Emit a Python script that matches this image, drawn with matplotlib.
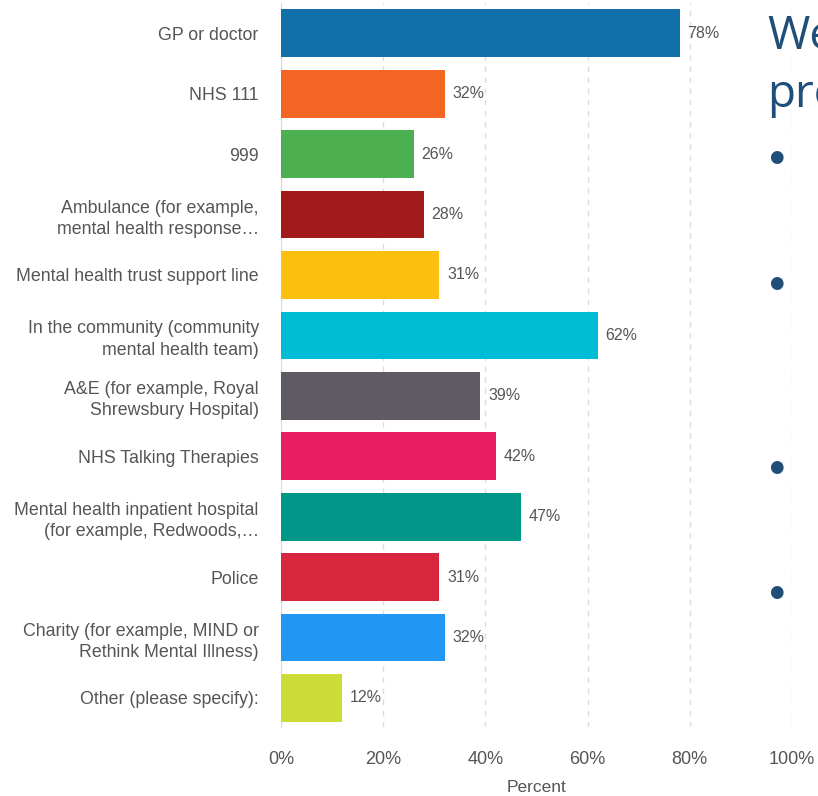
import numpy as np
import matplotlib
matplotlib.use("Agg")
import matplotlib.pyplot as plt

# survey answers, top to bottom
categories = [
    "GP or doctor",
    "NHS 111",
    "999",
    "Ambulance (for example,\nmental health response\u2026",
    "Mental health trust support line",
    "In the community (community\nmental health team)",
    "A&E (for example, Royal\nShrewsbury Hospital)",
    "NHS Talking Therapies",
    "Mental health inpatient hospital\n(for example, Redwoods,\u2026",
    "Police",
    "Charity (for example, MIND or\nRethink Mental Illness)",
    "Other (please specify):",
]
percent = [78, 32, 26, 28, 31, 62, 39, 42, 47, 31, 32, 12]
bar_colors = ["#1170aa", "#f26522", "#4caf50", "#a31a1a", "#fdc00f", "#00bcd4",
              "#605a63", "#e91e63", "#009688", "#d7263d", "#2196f3", "#cddc39"]
x_ticks = [0, 20, 40, 60, 80, 100]

plt.rcParams['font.family'] = ['Liberation Sans', 'DejaVu Sans']

fig = plt.figure(figsize=(8.18, 7.96), dpi=100)
# axes placed in pixel terms: left 281, right 792, top 3, bottom 727
ax = fig.add_axes([281/818, 1 - 727/796, (792-281)/818, (727-3)/796])

y = np.arange(len(categories))
ax.barh(y, percent, height=0.79, color=bar_colors, zorder=3)
for yi, v in zip(y, percent):
    ax.text(v + 1.5, yi, f"{v}%", va="center", ha="left", fontsize=11.5, color="#555555")

ax.set_xlim(0, 100)
ax.set_ylim(len(categories) - 0.52, -0.5)
ax.set_yticks(y)
ax.set_yticklabels(categories, fontsize=12.8, color="#555555", linespacing=1.35)
ax.set_xticks(x_ticks)
ax.set_xticklabels([f"{t}%" for t in x_ticks], fontsize=13, color="#555555")
ax.tick_params(axis="y", length=0, pad=16)
ax.tick_params(axis="x", length=0, pad=17)
ax.set_xlabel("Percent", fontsize=12.5, color="#555555", labelpad=9)

ax.grid(axis="x", color="#dddddd", linestyle=(0, (4, 4)), linewidth=1, zorder=0)
for s in ["top", "right", "bottom"]:
    ax.spines[s].set_visible(False)
ax.spines["left"].set_color("#d4dcec")

# slide text next to the chart (cut off at the edge, as on the slide)
title_blue = "#1f4e79"
fig.text(767/818, 1 - 37/796, "We", fontsize=33, color=title_blue, family="Open Sans",
         va="center", ha="left")
fig.text(767/818, 1 - 95/796, "pre", fontsize=33, color=title_blue, family="Open Sans",
         va="center", ha="left")
for by in [157, 283, 467, 592]:
    fig.text(776/818, 1 - by/796, "\u25cf", fontsize=12, color=title_blue,
             family="DejaVu Sans", va="center", ha="center")

fig.savefig("out.png", dpi=100)
